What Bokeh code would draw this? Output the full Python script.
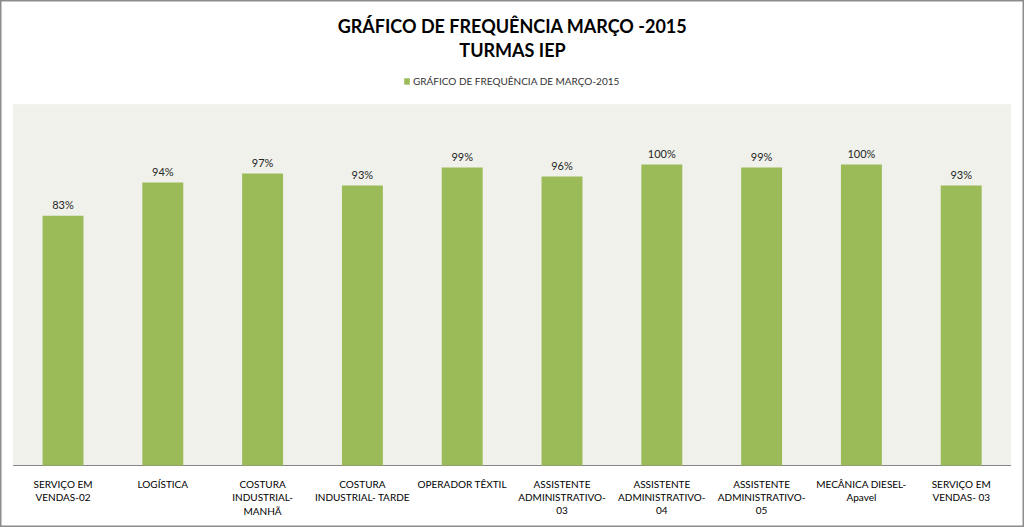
from bokeh.plotting import figure
from bokeh.models import (ColumnDataSource, Legend, LegendItem, Range1d, LabelSet, Label,
                          BoxAnnotation)
from bokeh.core.properties import value
from bokeh.embed import file_html
from bokeh.resources import INLINE

categories = [
    "SERVIÇO EM\nVENDAS-02",
    "LOGÍSTICA",
    "COSTURA\nINDUSTRIAL-\nMANHÃ",
    "COSTURA\nINDUSTRIAL- TARDE",
    "OPERADOR TÊXTIL",
    "ASSISTENTE\nADMINISTRATIVO-\n03",
    "ASSISTENTE\nADMINISTRATIVO-\n04",
    "ASSISTENTE\nADMINISTRATIVO-\n05",
    "MECÂNICA DIESEL-\nApavel",
    "SERVIÇO EM\nVENDAS- 03",
]
values = [0.83, 0.94, 0.97, 0.93, 0.99, 0.96, 1.00, 0.99, 1.00, 0.93]
labels = [f"{round(v*100)}%" for v in values]
title_lines = ["GRÁFICO DE FREQUÊNCIA MARÇO -2015", "TURMAS IEP"]
series_name = "GRÁFICO DE FREQUÊNCIA DE MARÇO-2015"
y_max = 1.2

FONT = "Lato"
GREEN = "#9BBB59"
BG = "#EFF1EA"
N = len(categories)

pos = list(range(N))
split = [c.split("\n") for c in categories]
line1 = [s[0] if len(s) > 0 else "" for s in split]
line2 = [s[1] if len(s) > 1 else "" for s in split]
line3 = [s[2] if len(s) > 2 else "" for s in split]

src = ColumnDataSource(dict(x=pos, val=values, lab=labels, l1=line1, l2=line2, l3=line3))

# frame covers the whole canvas: category pitch 99.8px, first centre at 62.5px;
# 0 -> 465px from top, 1.0 -> 301px tall
p = figure(
    x_range=Range1d(-0.6263, 9.6342), y_range=Range1d(-0.2060, 1.5449),
    width=1024, height=527, output_backend="svg", toolbar_location=None,
    min_border_left=0, min_border_right=0, min_border_top=0, min_border_bottom=0,
)
p.axis.visible = False
p.xgrid.grid_line_color = None
p.ygrid.grid_line_color = None
p.outline_line_color = "#8C8C8C"
p.outline_line_width = 2
p.background_fill_color = "white"
p.border_fill_color = "white"

p.add_layout(BoxAnnotation(left=-0.5, right=N - 0.5, bottom=0, top=y_max, fill_color=BG,
                           fill_alpha=1, line_color=None, level="underlay"))
p.segment(x0=-0.5, x1=N - 0.5, y0=0, y1=0, line_color="#868686", line_width=1)

r = p.vbar(x="x", top="val", width=0.41, source=src, color=GREEN, line_color=None)

p.add_layout(LabelSet(x="x", y="val", text="lab", source=src, text_align="center",
                      text_baseline="bottom", y_offset=5, text_font_size="11px",
                      text_color="#262626", text_font=value(FONT)))

for col, off in (("l1", -18.5), ("l2", -32), ("l3", -45.5)):
    p.add_layout(LabelSet(x="x", y=0, text=col, source=src, text_align="center",
                          text_baseline="middle", y_offset=off, text_font_size="10px",
                          text_color="#000000", text_font=value(FONT)))

for t, yy in zip(title_lines, [502, 477.5]):
    p.add_layout(Label(x=512, y=yy, x_units="screen", y_units="screen", text=t,
                       text_align="center", text_baseline="middle", text_font=FONT,
                       text_font_size="18px", text_font_style="bold", text_color="#000000"))

legend = Legend(items=[LegendItem(label=series_name, renderers=[r])],
                orientation="horizontal", location=(403, 440), label_text_font=FONT,
                label_text_font_size="10px", label_text_color="#333333",
                glyph_width=7, glyph_height=8, border_line_color=None,
                background_fill_alpha=0, padding=2, margin=0, label_standoff=3,
                label_height=10)
p.add_layout(legend)

open("out.html", "w").write(file_html(p, INLINE))
